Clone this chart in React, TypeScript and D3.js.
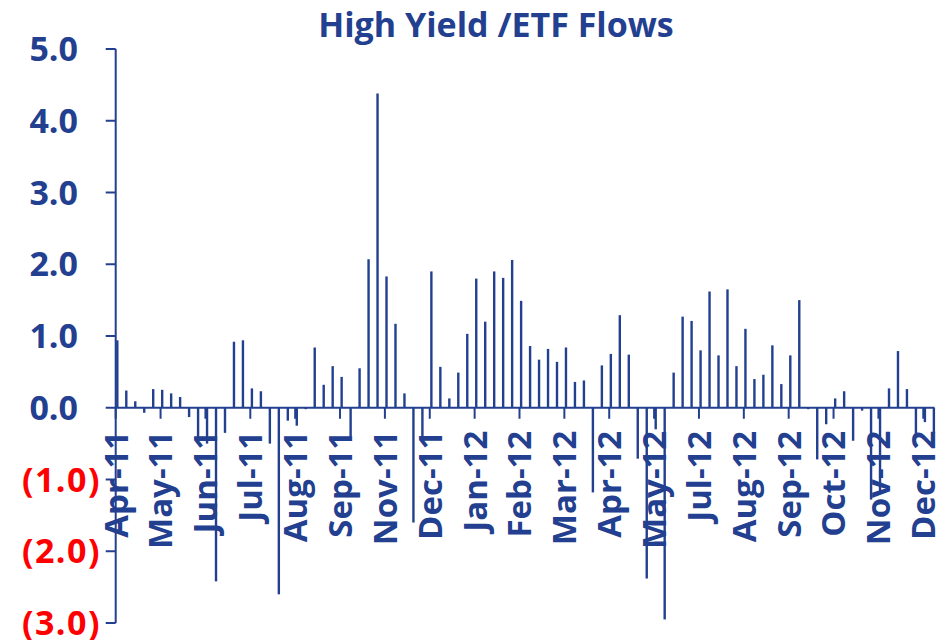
import React from "react";
import * as d3 from "d3";

const title = "High Yield /ETF Flows";

// weekly flows, Apr-2011 .. Dec-2012 (USD bn)
const flows: number[] = [
  0.94, 0.24, 0.09, -0.07, 0.26, 0.25, 0.2, 0.15, -0.13, -0.45,
  -0.5, -2.42, -0.35, 0.92, 0.94, 0.27, 0.23, -0.5, -2.6, -0.18,
  -0.25, -0.02, 0.84, 0.32, 0.58, 0.43, -0.41, 0.55, 2.07, 4.38,
  1.83, 1.17, 0.2, -1.6, -0.4, 1.9, 0.57, 0.13, 0.49, 1.03,
  1.8, 1.2, 1.9, 1.81, 2.06, 1.49, 0.86, 0.67, 0.82, 0.64,
  0.84, 0.36, 0.38, -1.18, 0.59, 0.75, 1.29, 0.74, -0.71, -2.38,
  -0.3, -2.95, 0.49, 1.27, 1.21, 0.8, 1.62, 0.73, 1.65, 0.58,
  1.1, 0.4, 0.46, 0.87, 0.33, 0.73, 1.5, -0.02, -0.72, -0.23,
  0.13, 0.23, -0.46, -0.04, -1.28, -1.2, 0.27, 0.79, 0.26, -0.42,
  -0.2, -0.35,
];

const tickLabels: string[] = [
  "Apr-11", "May-11", "Jun-11", "Jul-11", "Aug-11", "Sep-11", "Nov-11",
  "Dec-11", "Jan-12", "Feb-12", "Mar-12", "Apr-12", "May-12", "Jul-12",
  "Aug-12", "Sep-12", "Oct-12", "Nov-12", "Dec-12",
];
const weeksPerLabel = 5;

const yTicks: number[] = [5, 4, 3, 2, 1, 0, -1, -2, -3];

const BLUE = "#22408f";
const RED = "#ff0000";
const FONT = "'Open Sans', 'Noto Sans', sans-serif";

export default function App() {
  const W = 950;
  const H = 640;
  const x = d3.scaleLinear().domain([0, 91.25]).range([115.7, 934.5]);
  const y = d3.scaleLinear().domain([-3, 5]).range([623, 49]);
  const y0 = y(0);
  const fmt = (v: number) =>
    v < 0 ? `(${d3.format(".1f")(-v)})` : d3.format(".1f")(v);

  return (
    <svg
      width={W}
      height={H}
      style={{ position: "absolute", left: 0, top: 0, background: "#fff" }}
    >
      <text
        x={496}
        y={37}
        textAnchor="middle"
        fontFamily={FONT}
        fontWeight="bold"
        fontSize={34}
        fill={BLUE}
      >
        {title}
      </text>

      {/* y axis */}
      <line x1={x(0)} x2={x(0)} y1={y(5)} y2={y(-3)} stroke={BLUE} strokeWidth={2} />
      {yTicks.map((t) => (
        <g key={t}>
          <line x1={x(0) - 10} x2={x(0)} y1={y(t)} y2={y(t)} stroke={BLUE} strokeWidth={2} />
          <text
            x={t < 0 ? 101 : 78}
            y={y(t)}
            dy="0.36em"
            textAnchor="end"
            fontFamily={FONT}
            fontWeight="bold"
            fontSize={34}
            letterSpacing={t < 0 ? 1.5 : 0}
            fill={t < 0 ? RED : BLUE}
          >
            {fmt(t)}
          </text>
        </g>
      ))}

      {/* bars */}
      {flows.map((v, i) => (
        <rect
          key={i}
          x={x(i + 0.18) - 1.2}
          width={2.4}
          y={Math.min(y(v), y0)}
          height={Math.abs(y(v) - y0)}
          fill={BLUE}
        />
      ))}

      {/* x axis */}
      <line x1={x(0)} x2={x(91.25)} y1={y0} y2={y0} stroke={BLUE} strokeWidth={2.2} />
      {tickLabels.map((lab, k) => {
        const tx = x(k * weeksPerLabel);
        return (
          <g key={lab}>
            <line x1={tx} x2={tx} y1={y0} y2={y0 + 11} stroke={BLUE} strokeWidth={2} />
            <text
              transform={`translate(${tx},${y0 + 23}) rotate(-90)`}
              dy="0.36em"
              textAnchor="end"
              fontFamily={FONT}
              fontWeight="bold"
              fontSize={33}
              fill={BLUE}
            >
              {lab}
            </text>
          </g>
        );
      })}
    </svg>
  );
}
